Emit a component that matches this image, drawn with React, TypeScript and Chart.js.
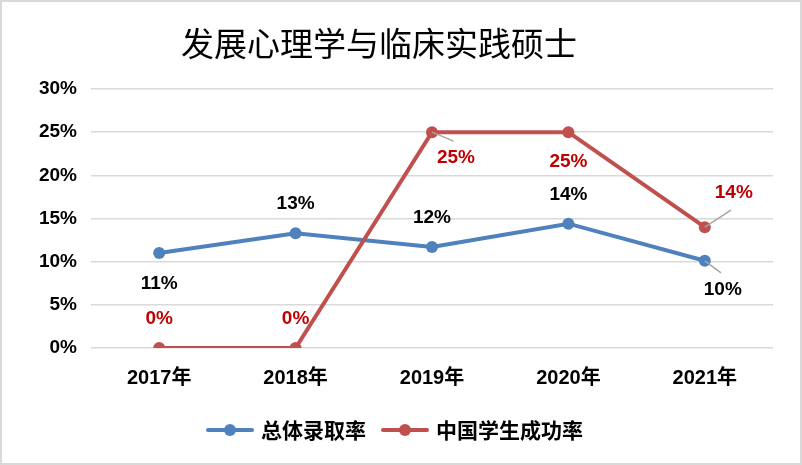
import { useEffect, useRef } from "react";
import { Chart, registerables } from "chart.js";

Chart.register(...registerables);

const title = "发展心理学与临床实践硕士";
const years = ["2017年", "2018年", "2019年", "2020年", "2021年"];
const admitRate = [11.0, 13.3, 11.7, 14.4, 10.1];
const admitLabels = ["11%", "13%", "12%", "14%", "10%"];
const chinaRate = [0, 0, 25, 25, 14];
const chinaLabels = ["0%", "0%", "25%", "25%", "14%"];
const seriesNames = ["总体录取率", "中国学生成功率"];

// where each data label sits relative to its point, [dx, dy, leader line]
const admitOffsets: [number, number, boolean][] = [
  [0, 31, false],
  [0, -29, false],
  [0, -29, false],
  [0, -29, false],
  [18, 29, true],
];
const chinaOffsets: [number, number, boolean][] = [
  [0, -29, false],
  [0, -29, false],
  [24, 26, true],
  [0, 30, false],
  [29, -34, true],
];

const BLUE = "#4F81BD";
const RED = "#C0504D";
const FONT = "'Liberation Sans', 'Noto Sans CJK SC', sans-serif";
const CJK = "'Noto Sans CJK SC', 'Liberation Sans', sans-serif";

const extras = {
  id: "extras",
  afterDatasetsDraw(chart: Chart) {
    const ctx = chart.ctx;
    const area = chart.chartArea;
    ctx.save();

    // data labels
    const sets = [
      { labels: admitLabels, offsets: admitOffsets, color: "#000000" },
      { labels: chinaLabels, offsets: chinaOffsets, color: "#C00000" },
    ];
    sets.forEach((s, di) => {
      const meta = chart.getDatasetMeta(di);
      meta.data.forEach((pt, i) => {
        const [dx, dy, leader] = s.offsets[i];
        const x = pt.x + dx;
        const y = pt.y + dy;
        if (leader) {
          ctx.strokeStyle = "#A6A6A6";
          ctx.lineWidth = 1.5;
          ctx.beginPath();
          ctx.moveTo(pt.x, pt.y);
          ctx.lineTo(pt.x + dx * 0.9, pt.y + (dy > 0 ? dy - 17 : dy + 17));
          ctx.stroke();
        }
        ctx.font = `bold 19px ${FONT}`;
        ctx.fillStyle = s.color;
        ctx.textAlign = "center";
        ctx.textBaseline = "middle";
        ctx.fillText(s.labels[i], x, y);
      });
    });

    // title
    ctx.font = `33px ${CJK}`;
    ctx.fillStyle = "#000000";
    ctx.textAlign = "center";
    ctx.textBaseline = "middle";
    ctx.fillText(title, 377, 41);

    // legend
    const ly = area.bottom + 82;
    const items = [
      { x: 206, color: BLUE, text: seriesNames[0] },
      { x: 381, color: RED, text: seriesNames[1] },
    ];
    items.forEach((it) => {
      ctx.strokeStyle = it.color;
      ctx.lineWidth = 4;
      ctx.lineCap = "round";
      ctx.beginPath();
      ctx.moveTo(it.x, ly);
      ctx.lineTo(it.x + 44, ly);
      ctx.stroke();
      ctx.fillStyle = it.color;
      ctx.beginPath();
      ctx.arc(it.x + 22, ly, 6, 0, Math.PI * 2);
      ctx.fill();
      ctx.font = `bold 21px ${CJK}`;
      ctx.fillStyle = "#000000";
      ctx.textAlign = "left";
      ctx.textBaseline = "middle";
      ctx.fillText(it.text, it.x + 53, ly);
    });
    ctx.restore();
  },
};

export default function App() {
  const ref = useRef<HTMLCanvasElement>(null);

  useEffect(() => {
    document.body.style.margin = "0";
    if (!ref.current) return;
    const chart = new Chart(ref.current, {
      type: "line",
      data: {
        labels: years,
        datasets: [
          {
            label: seriesNames[0],
            data: admitRate,
            borderColor: BLUE,
            backgroundColor: BLUE,
            borderWidth: 4,
            pointRadius: 6,
            pointHoverRadius: 6,
            pointBorderWidth: 0,
            tension: 0,
            order: 1,
          },
          {
            label: seriesNames[1],
            data: chinaRate,
            borderColor: RED,
            backgroundColor: RED,
            borderWidth: 4,
            pointRadius: 6,
            pointHoverRadius: 6,
            pointBorderWidth: 0,
            tension: 0,
            order: 0,
          },
        ],
      },
      options: {
        responsive: false,
        animation: false,
        layout: { padding: { top: 87, right: 27, left: 0, bottom: 0 } },
        plugins: {
          legend: { display: false },
          tooltip: { enabled: false },
          title: { display: false },
        },
        scales: {
          x: {
            offset: true,
            grid: { display: false, drawTicks: false },
            border: { display: false },
            ticks: {
              padding: 18,
              color: "#000000",
              font: { family: FONT, size: 20, weight: "bold" },
            },
            afterFit: (axis: any) => {
              axis.height = 115;
            },
          },
          y: {
            min: 0,
            max: 30,
            grid: { color: "#D9D9D9", lineWidth: 1.5, drawTicks: false },
            border: { display: false },
            ticks: {
              stepSize: 5,
              padding: 14,
              color: "#000000",
              font: { family: FONT, size: 19, weight: "bold" },
              callback: (v: any) => `${v}%`,
            },
            afterFit: (axis: any) => {
              axis.width = 89;
            },
          },
        },
      },
      plugins: [extras],
    });
    return () => {
      chart.destroy();
    };
  }, []);

  return (
    <div
      style={{
        width: 802,
        height: 465,
        boxSizing: "border-box",
        border: "2px solid #D9D9D9",
        background: "#FFFFFF",
      }}
    >
      <canvas ref={ref} width={798} height={461} style={{ display: "block" }} />
    </div>
  );
}
